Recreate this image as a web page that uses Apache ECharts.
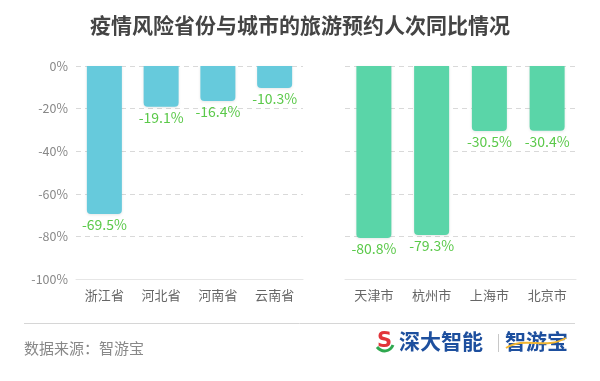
<!DOCTYPE html>
<html>
<head>
<meta charset="utf-8">
<script src="https://cdn.jsdelivr.net/npm/echarts@6/dist/echarts.min.js"></script>
<style>
html,body{margin:0;padding:0;background:#fff;}
#c{width:600px;height:381px;}
</style>
</head>
<body>
<div id="c"></div>
<script>
const provinces = ['浙江省', '河北省', '河南省', '云南省'];
const provinceValues = [-69.5, -19.1, -16.4, -10.3];
const cities = ['天津市', '杭州市', '上海市', '北京市'];
const cityValues = [-80.8, -79.3, -30.5, -30.4];
const yTicks = { min: -100, max: 0, interval: 20 };

const FONT = '"Noto Sans CJK SC", "Noto Sans", sans-serif';
const chart = echarts.init(document.getElementById('c'), null, { renderer: 'canvas' });

function xAxisFor(idx, data) {
  return {
    type: 'category', gridIndex: idx, data: data, position: 'bottom',
    axisLine: { show: true, onZero: false, lineStyle: { color: '#e6e6e6', width: 1 } },
    axisTick: { show: false },
    splitLine: { show: false },
    splitArea: { show: false },
    axisLabel: { color: '#666', fontSize: 13, fontFamily: FONT, margin: 10 }
  };
}
function yAxisFor(idx, showLabel) {
  return {
    type: 'value', gridIndex: idx, min: yTicks.min, max: yTicks.max, interval: yTicks.interval,
    axisLine: { show: false },
    axisTick: { show: false },
    splitArea: { show: false },
    axisLabel: { show: showLabel, color: '#888', fontSize: 12.5, fontFamily: FONT, margin: 8,
      formatter: v => v + '%' },
    splitLine: { show: true, lineStyle: { color: '#d9d9d9', type: [5, 4] } }
  };
}
function barSeries(idx, data, color) {
  return {
    type: 'bar', xAxisIndex: idx, yAxisIndex: idx, data: data, barWidth: 35,
    itemStyle: { color: color, borderRadius: [0, 0, 4, 4], shadowBlur: 3, shadowColor: 'rgba(0,0,0,0.1)', shadowOffsetY: 1 },
    label: { show: true, position: 'bottom', distance: 4, color: '#5bc94a', fontSize: 14, fontFamily: FONT,
      formatter: p => p.value.toFixed(1) + '%' },
    animation: false
  };
}

chart.setOption({
  backgroundColor: '#fff',
  animation: false,
  title: {
    text: '疫情风险省份与城市的旅游预约人次同比情况', left: 'center', top: 10,
    textStyle: { color: '#444', fontSize: 21, fontWeight: 'bold', fontFamily: FONT }
  },
  grid: [
    { left: 76, width: 227, top: 66, height: 213 },
    { left: 345, width: 231, top: 66, height: 213 }
  ],
  xAxis: [xAxisFor(0, provinces), xAxisFor(1, cities)],
  yAxis: [yAxisFor(0, true), yAxisFor(1, false)],
  series: [barSeries(0, provinceValues, '#66cadc'), barSeries(1, cityValues, '#5ad5a8')],
  graphic: [
    { type: 'line', shape: { x1: 24, y1: 323.5, x2: 575, y2: 323.5 }, style: { stroke: '#d6d6d6', lineWidth: 1 } },
    { type: 'text', left: 24, top: 341, style: { text: '数据来源：智游宝', fill: '#888', font: '15px ' + FONT } },
    { type: 'text', left: 377, top: 331, style: { text: 'S', font: 'bold 21px "DejaVu Sans", sans-serif', fill: '#e2343a' } },
    { type: 'bezierCurve', shape: { x1: 377, y1: 347, cpx1: 382, cpy1: 353, cpx2: 390, cpy2: 352, x2: 393, y2: 345 },
      style: { stroke: '#2fa84f', lineWidth: 3, fill: null } },
    { type: 'text', left: 399, top: 331, style: { text: '深大智能', fill: '#1d4f9e', font: 'bold 21px ' + FONT } },
    { type: 'line', shape: { x1: 498.5, y1: 334, x2: 498.5, y2: 352 }, style: { stroke: '#c8c8c8', lineWidth: 1 } },
    { type: 'text', left: 505, top: 331, style: { text: '智游宝', fill: '#1d4f9e', font: 'bold 21px ' + FONT } },
    { type: 'bezierCurve', shape: { x1: 506, y1: 348, cpx1: 525, cpy1: 336, cpx2: 545, cpy2: 350, x2: 566, y2: 338 },
      style: { stroke: '#f2b632', lineWidth: 2, fill: null } }
  ]
});
</script>
</body>
</html>
